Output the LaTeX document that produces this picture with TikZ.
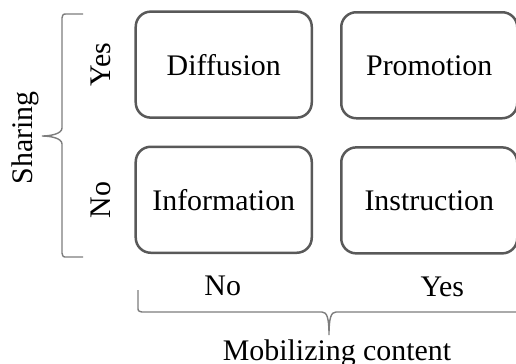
\documentclass[tikz,border=0pt]{standalone}
\usepackage{fontspec}
\setmainfont{Liberation Serif}
\usetikzlibrary{matrix,positioning}
\definecolor{boxColor}{RGB}{89,89,89}
\definecolor{braceColor}{RGB}{125,125,125}

\begin{document}
\begin{tikzpicture}[x=1bp, y=-1bp, font=\fontsize{30}{35}\selectfont,
quadrant/.style={
    matrix of nodes,nodes={
        draw=boxColor, line width=2.5bp, rounded corners=15bp,
        minimum width=176bp, minimum height=106bp,
        inner sep=0pt, outer sep=0pt},
    column sep=27bp,
    row sep=26bp
},
bracepath/.style={
    draw=braceColor, line width=1.4bp}]

\useasboundingbox (0,0) rectangle (516,363);

\matrix[quadrant] (grid) at (326.5,132.5) {
Diffusion   & Promotion   \\
Information & Instruction \\
};

\draw (grid-1-1.west)++(-35,0) node[rotate=90] (yesSharing) {Yes};
\draw (grid-2-1.west)++(-35,0) node[rotate=90] (noSharing) {No};
\draw (grid-2-1.south)++(-1,43) node[anchor=base] (noContent) {No};
\draw (grid-2-2.south)++(13,43) node[anchor=base] (yesContent) {Yes};

% braces
\coordinate (sharingTip) at (42,136);
\coordinate (contentTip) at (329,335);
\draw[bracepath] (83,14) -- (67,14) .. controls (63,14) .. (62,18)
    -- (62,128) .. controls (62,134) and (50,136) .. (sharingTip)
    .. controls (50,136) and (62,138) .. (62,144)
    -- (62,253) .. controls (63,257) .. (67,257) -- (83,257);
\draw[bracepath] (138,290) -- (138,307) .. controls (138,311) .. (142,312)
    -- (322,312) .. controls (327,312) and (329,318) .. (contentTip)
    .. controls (329,318) and (331,312) .. (336,312)
    -- (516,312);

\node[rotate=90] (sharingLabel) at (25,138) {Sharing};
\node[anchor=base, inner sep=0pt] (contentLabel) at (337,360) {Mobilizing content};

\end{tikzpicture}
\end{document}
